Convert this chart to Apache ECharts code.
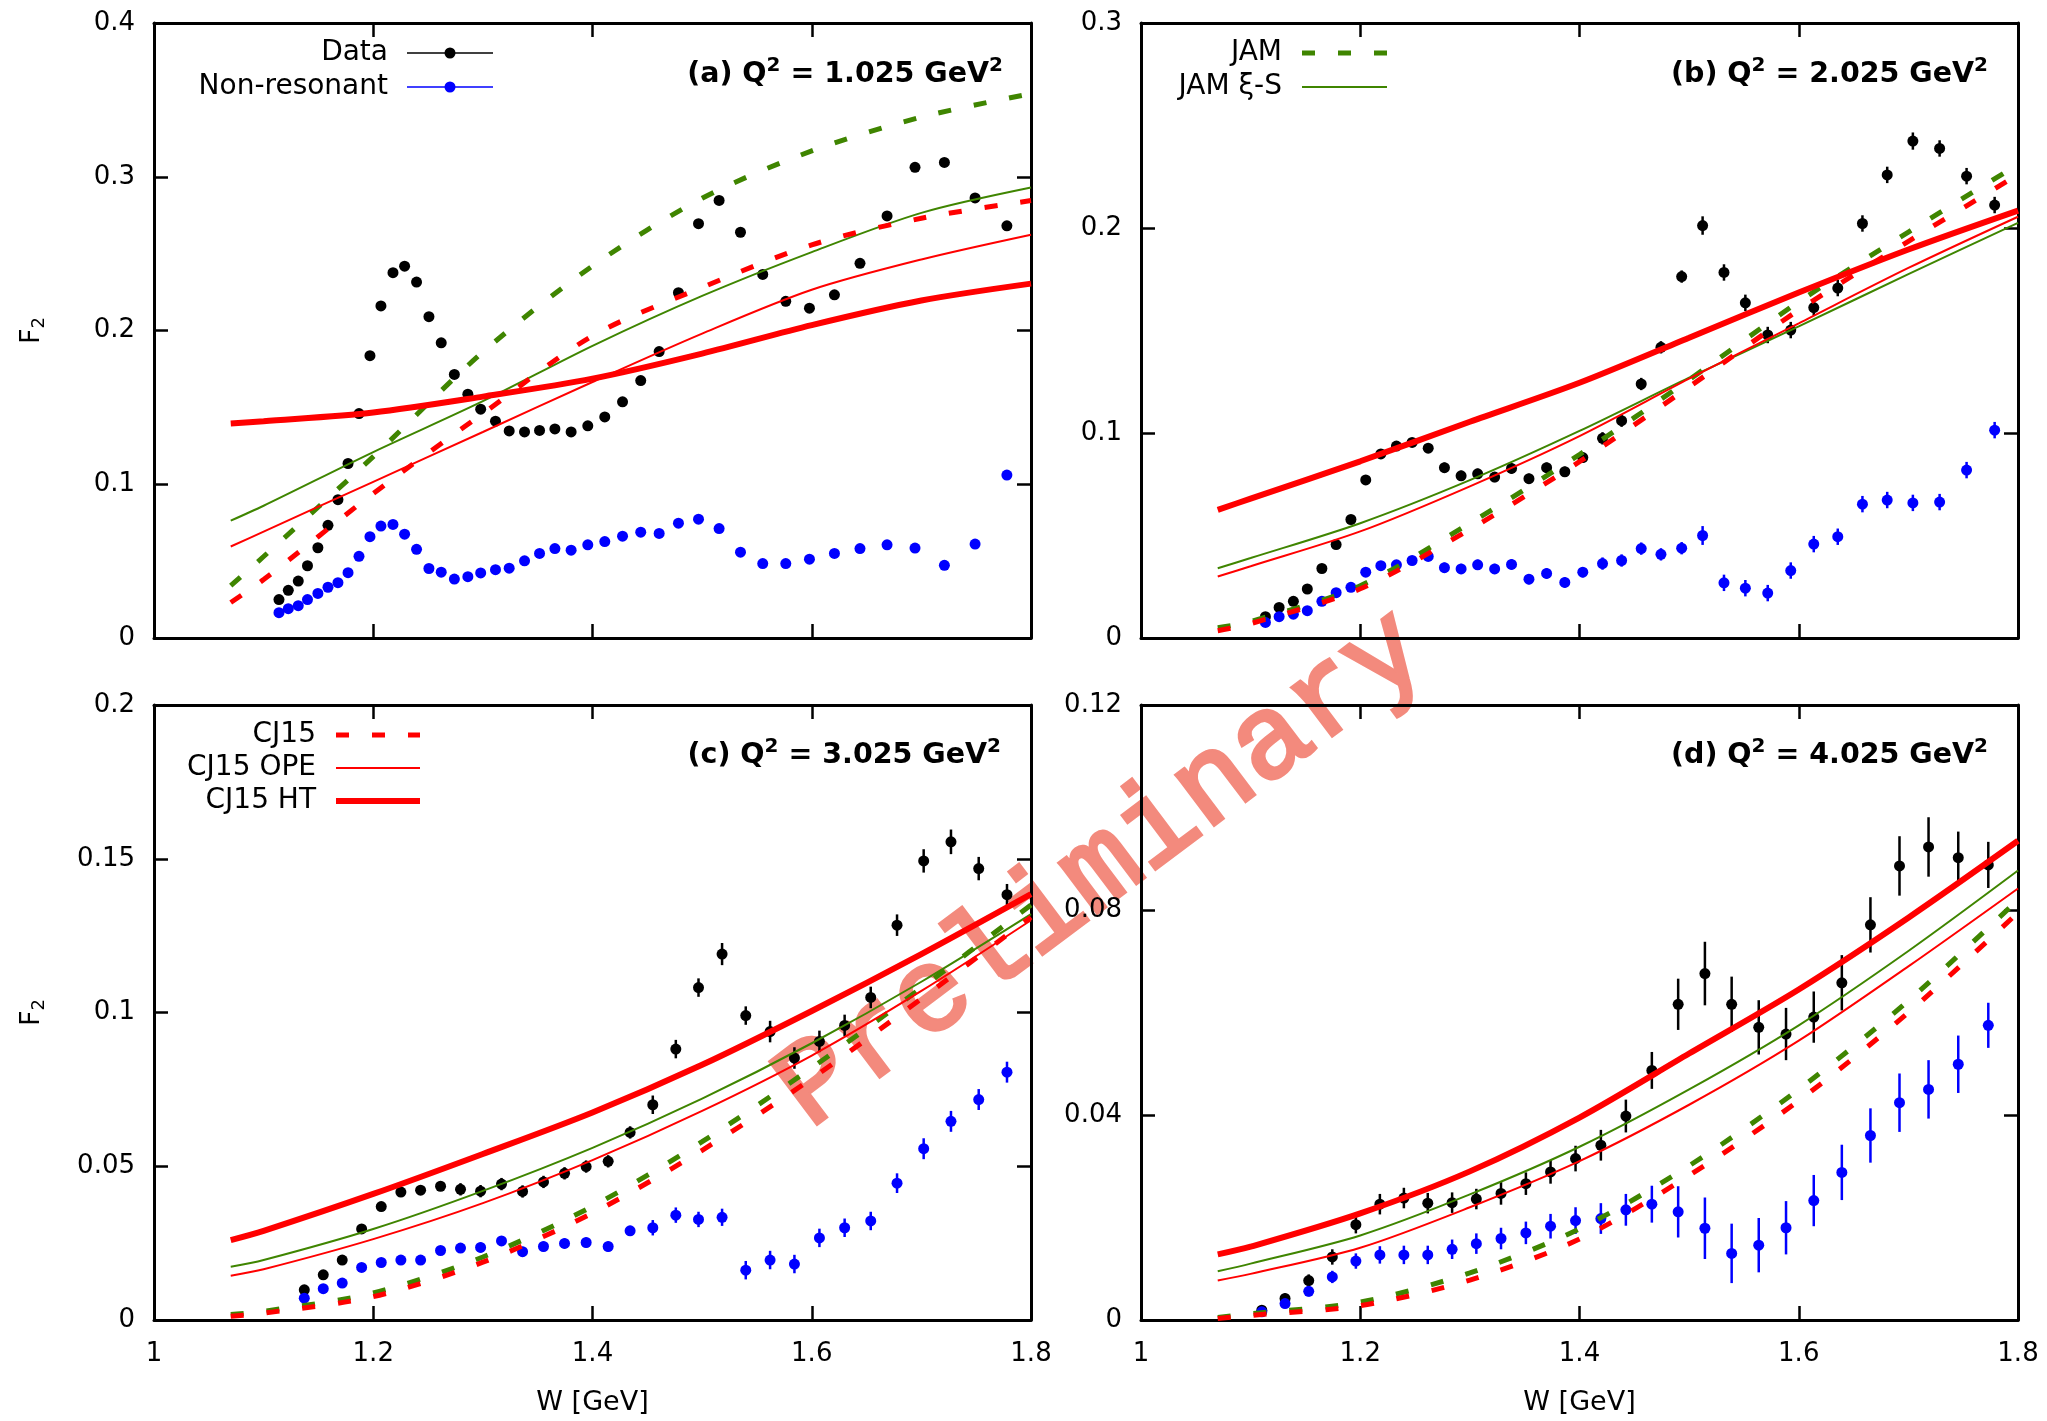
<!DOCTYPE html>
<html>
<head>
<meta charset="utf-8">
<script src="https://cdn.jsdelivr.net/npm/echarts@6/dist/echarts.min.js"></script>
<style>
  html, body { margin: 0; padding: 0; background: #fff; }
  #chart { width: 2047px; height: 1421px; }
</style>
</head>
<body>
<div id="chart"></div>
<script>
// ---- measured points (W in GeV, F2) ----
// panel (a) Q2 = 1.025
const wA = [1.114,1.1225,1.1316,1.140,1.1495,1.1587,1.1678,1.177,1.187,1.197,1.207,1.218,1.2286,1.2395,1.2508,1.262,1.274,1.2863,1.298,1.3115,1.324,1.338,1.3517,1.3657,1.3805,1.3957,1.4112,1.4274,1.444,1.4608,1.4784,1.4967,1.5155,1.535,1.5553,1.5763,1.5979,1.6207,1.644,1.6687,1.6942,1.721,1.749,1.778];
const dataA = [0.025,0.031,0.037,0.047,0.0587,0.0733,0.090,0.1135,0.146,0.1836,0.216,0.2376,0.2418,0.2315,0.209,0.192,0.1714,0.1586,0.1488,0.141,0.1347,0.134,0.135,0.136,0.134,0.138,0.1438,0.1536,0.1674,0.1863,0.2246,0.2695,0.2846,0.2639,0.2365,0.219,0.2145,0.2232,0.2437,0.2745,0.3061,0.3093,0.2862,0.2681];
const nonresA = [0.0165,0.0191,0.021,0.025,0.029,0.033,0.036,0.0425,0.0531,0.0659,0.0728,0.0739,0.0675,0.0577,0.0452,0.0428,0.0383,0.0399,0.0423,0.0444,0.0454,0.0502,0.055,0.0582,0.0571,0.0606,0.0627,0.0662,0.0688,0.068,0.0747,0.0773,0.0712,0.0558,0.0484,0.0484,0.0513,0.055,0.0582,0.0606,0.0585,0.0473,0.0611,0.106];

// panel (b) Q2 = 2.025
const wB = [1.1135,1.126,1.139,1.1517,1.165,1.178,1.1915,1.205,1.2188,1.233,1.2473,1.262,1.2768,1.292,1.3071,1.3226,1.338,1.3539,1.370,1.3866,1.403,1.421,1.4384,1.4563,1.4743,1.4932,1.5123,1.5318,1.5513,1.5717,1.5927,1.6137,1.6356,1.6581,1.6807,1.7041,1.7285,1.7531,1.7787];
const dataB = [0.0104,0.0149,0.0179,0.0239,0.0339,0.0456,0.0578,0.0771,0.0898,0.0936,0.0954,0.0926,0.0831,0.0791,0.0801,0.0785,0.0827,0.0777,0.0831,0.0811,0.088,0.0974,0.106,0.1239,0.1418,0.1763,0.2012,0.1783,0.1635,0.1478,0.1502,0.1612,0.1707,0.2022,0.2259,0.2424,0.2388,0.2253,0.2112];
const dataErrB = [0.002,0.002,0.002,0.002,0.002,0.002,0.002,0.002,0.002,0.002,0.002,0.002,0.0025,0.0025,0.0025,0.0025,0.0025,0.0025,0.0025,0.0025,0.0025,0.003,0.003,0.003,0.003,0.003,0.0045,0.004,0.004,0.004,0.004,0.004,0.004,0.004,0.004,0.0042,0.004,0.004,0.004];
const nonresB = [0.0076,0.0104,0.0116,0.0133,0.0179,0.0221,0.0247,0.0321,0.0353,0.0357,0.0378,0.0398,0.0343,0.0337,0.0357,0.0337,0.0359,0.0287,0.0315,0.0271,0.0321,0.0363,0.0378,0.0436,0.0408,0.0438,0.05,0.0269,0.0243,0.0219,0.0329,0.0458,0.0494,0.0653,0.0673,0.0659,0.0663,0.0819,0.1014];
const nonresErrB = [0.002,0.002,0.002,0.002,0.002,0.002,0.002,0.002,0.002,0.002,0.002,0.002,0.0025,0.0025,0.0025,0.0025,0.0025,0.0025,0.0025,0.0025,0.0025,0.003,0.003,0.003,0.003,0.003,0.0046,0.004,0.004,0.004,0.004,0.004,0.004,0.004,0.004,0.004,0.004,0.004,0.004];

// panel (c) Q2 = 3.025
const wC = [1.1371,1.1544,1.1717,1.1894,1.2073,1.2252,1.2432,1.2614,1.2796,1.2979,1.317,1.3362,1.3553,1.3745,1.3942,1.4143,1.4343,1.455,1.476,1.4967,1.5182,1.5398,1.562,1.5842,1.607,1.63,1.6538,1.6778,1.7021,1.727,1.7523,1.7781];
const dataC = [0.0098,0.0147,0.0195,0.0296,0.0369,0.0416,0.0422,0.0435,0.0425,0.0419,0.0442,0.0418,0.0449,0.0477,0.0499,0.0516,0.061,0.070,0.0881,0.1081,0.119,0.099,0.0938,0.0852,0.0906,0.0958,0.1049,0.1284,0.1493,0.1555,0.1468,0.1383];
const dataErrC = [0.0015,0.0015,0.0015,0.0015,0.0015,0.0015,0.0015,0.0015,0.002,0.002,0.002,0.002,0.002,0.002,0.002,0.002,0.002,0.003,0.003,0.003,0.0036,0.003,0.0035,0.0035,0.0035,0.0035,0.0035,0.0035,0.0038,0.004,0.0038,0.0035];
const nonresC = [0.0071,0.0102,0.012,0.0171,0.0187,0.0195,0.0195,0.0226,0.0234,0.0236,0.0257,0.0222,0.0239,0.0249,0.0252,0.0239,0.029,0.030,0.0341,0.0327,0.0334,0.0162,0.0195,0.0182,0.0267,0.030,0.0322,0.0445,0.0557,0.0646,0.0717,0.0806];
const nonresErrC = [0.0012,0.0012,0.0012,0.0012,0.0012,0.0012,0.0012,0.0012,0.0016,0.0016,0.0016,0.0016,0.0016,0.0016,0.0016,0.0016,0.0016,0.0025,0.0025,0.0025,0.0028,0.003,0.003,0.003,0.003,0.003,0.003,0.0032,0.0034,0.0034,0.0034,0.0034];

// panel (d) Q2 = 4.025
const wD = [1.1102,1.1314,1.153,1.1745,1.196,1.2179,1.2398,1.2616,1.2838,1.3059,1.3284,1.3511,1.3736,1.3964,1.4195,1.4423,1.466,1.490,1.5144,1.5388,1.5635,1.5884,1.6137,1.6393,1.6654,1.6919,1.7184,1.7455,1.7729];
const dataD = [0.0019,0.0042,0.0077,0.0123,0.0186,0.0226,0.0238,0.0228,0.0229,0.0236,0.0247,0.0266,0.0289,0.0315,0.0341,0.0398,0.0487,0.0616,0.0676,0.0616,0.0571,0.0558,0.0591,0.0658,0.0771,0.0886,0.0923,0.0902,0.0888];
const dataErrD = [0.0008,0.001,0.0012,0.0015,0.0017,0.002,0.002,0.002,0.002,0.002,0.0022,0.0022,0.0023,0.0025,0.003,0.0032,0.0036,0.005,0.0062,0.0054,0.0053,0.0051,0.005,0.0054,0.0054,0.0058,0.0058,0.0051,0.0045];
const nonresD = [0.0016,0.0032,0.0056,0.0084,0.0115,0.0127,0.0127,0.0127,0.0138,0.0149,0.0159,0.017,0.0183,0.0194,0.0198,0.0215,0.0226,0.0211,0.0179,0.013,0.0146,0.018,0.0233,0.0288,0.036,0.0424,0.045,0.0499,0.0575];
const nonresErrD = [0.0006,0.0008,0.001,0.0012,0.0015,0.0017,0.0018,0.0018,0.0019,0.002,0.0021,0.0022,0.0024,0.0026,0.003,0.0031,0.0036,0.005,0.006,0.0058,0.0053,0.0052,0.005,0.0054,0.0053,0.0057,0.0057,0.0056,0.0044];

// ---- model curves, read at these W ----
const curveW = [1.07, 1.1, 1.2, 1.3, 1.4, 1.5, 1.6, 1.7, 1.8];

const jamA   = [0.034, 0.053, 0.118, 0.186, 0.242, 0.286, 0.3168, 0.3388, 0.354];
const jamXiA = [0.0763, 0.086, 0.1209, 0.154, 0.19, 0.2225, 0.251, 0.2765, 0.293];
const cjA    = [0.0231, 0.038, 0.094, 0.146, 0.1965, 0.228, 0.2557, 0.273, 0.2845];
const opeA   = [0.0595, 0.0692, 0.1016, 0.134, 0.1665, 0.198, 0.2265, 0.2462, 0.2623];
const htA    = [0.1395, 0.141, 0.1467, 0.157, 0.1687, 0.185, 0.2035, 0.2195, 0.2305];

const jamB   = [0.005, 0.008, 0.0255, 0.056, 0.0895, 0.126, 0.164, 0.198, 0.231];
const jamXiB = [0.034, 0.039, 0.056, 0.077, 0.101, 0.127, 0.152, 0.1775, 0.2025];
const cjB    = [0.0035, 0.007, 0.024, 0.053, 0.086, 0.1225, 0.160, 0.1935, 0.226];
const opeB   = [0.030, 0.035, 0.052, 0.074, 0.0985, 0.1265, 0.1535, 0.1805, 0.2055];
const htB    = [0.0625, 0.068, 0.0862, 0.1055, 0.1245, 0.1465, 0.1685, 0.1895, 0.2085];

const jamC   = [0.0018, 0.0028, 0.0088, 0.0205, 0.037, 0.058, 0.082, 0.108, 0.135];
const jamXiC = [0.0173, 0.0195, 0.0296, 0.042, 0.056, 0.072, 0.090, 0.110, 0.132];
const cjC    = [0.0012, 0.0022, 0.0076, 0.0188, 0.0348, 0.0552, 0.0785, 0.1045, 0.131];
const opeC   = [0.0144, 0.0165, 0.0263, 0.038, 0.052, 0.068, 0.086, 0.107, 0.130];
const htC    = [0.026, 0.029, 0.041, 0.054, 0.0675, 0.083, 0.1005, 0.119, 0.1385];

const jamD   = [0.0005, 0.0012, 0.0035, 0.0092, 0.0178, 0.0301, 0.045, 0.0623, 0.082];
const jamXiD = [0.0095, 0.011, 0.0165, 0.0245, 0.0338, 0.045, 0.0575, 0.072, 0.0877];
const cjD    = [0.0003, 0.0009, 0.0028, 0.0078, 0.0158, 0.0282, 0.0428, 0.060, 0.0795];
const opeD   = [0.0077, 0.009, 0.0141, 0.022, 0.031, 0.042, 0.0545, 0.069, 0.0842];
const htD    = [0.0128, 0.0143, 0.0208, 0.029, 0.0395, 0.052, 0.0645, 0.0785, 0.0935];

// axis ranges and labels
const yMax  = [0.4, 0.3, 0.2, 0.12];
const yStep = [0.1, 0.1, 0.05, 0.04];
const titles = ['(a) Q{s|2} = 1.025 GeV{s|2}', '(b) Q{s|2} = 2.025 GeV{s|2}',
                '(c) Q{s|2} = 3.025 GeV{s|2}', '(d) Q{s|2} = 4.025 GeV{s|2}'];

const points = [
  { w: wA, data: dataA, dataErr: null, nonres: nonresA, nonresErr: null },
  { w: wB, data: dataB, dataErr: dataErrB, nonres: nonresB, nonresErr: nonresErrB },
  { w: wC, data: dataC, dataErr: dataErrC, nonres: nonresC, nonresErr: nonresErrC },
  { w: wD, data: dataD, dataErr: dataErrD, nonres: nonresD, nonresErr: nonresErrD }
];
const curves = [
  { jam: jamA, jamXi: jamXiA, cj: cjA, ope: opeA, ht: htA },
  { jam: jamB, jamXi: jamXiB, cj: cjB, ope: opeB, ht: htB },
  { jam: jamC, jamXi: jamXiC, cj: cjC, ope: opeC, ht: htC },
  { jam: jamD, jamXi: jamXiD, cj: cjD, ope: opeD, ht: htD }
];

// layout
const FONT = 'DejaVu Sans';
const GREEN = '#3f8500';
const RED = '#ff0000';
const BLUE = '#0000ff';
const DASH = [13, 23];
const gridPos = [
  { left: 154, top: 23 }, { left: 1141, top: 23 },
  { left: 154, top: 705 }, { left: 1141, top: 705 }
];

const pairs = (xs, ys) => xs.map((x, i) => [x, ys[i]]);
const triples = (xs, ys, es) => xs.map((x, i) => [x, ys[i], es[i]]);

const chart = echarts.init(document.getElementById('chart'));

const grid = gridPos.map(p => ({ left: p.left, top: p.top, width: 877, height: 615 }));
const frameLine = { show: true, onZero: false, lineStyle: { color: '#000', width: 3 } };
const tick = { show: true, inside: true, length: 14, lineStyle: { color: '#000', width: 2.5 } };

const xAxis = [];
const yAxis = [];
for (let i = 0; i < 4; i++) {
  const bottomLabels = i >= 2;
  xAxis.push({
    gridIndex: i, type: 'value', position: 'bottom', min: 1, max: 1.8, interval: 0.2,
    axisLine: frameLine, axisTick: tick, splitLine: { show: false },
    axisLabel: { show: bottomLabels, margin: 21, color: '#000', fontSize: 26, fontFamily: FONT },
    name: bottomLabels ? 'W [GeV]' : '', nameLocation: 'middle', nameGap: 69,
    nameTextStyle: { color: '#000', fontSize: 27, fontFamily: FONT }
  });
  xAxis.push({
    gridIndex: i, type: 'value', position: 'top', min: 1, max: 1.8, interval: 0.2,
    axisLine: frameLine, axisTick: tick, splitLine: { show: false }, axisLabel: { show: false }
  });
  yAxis.push({
    gridIndex: i, type: 'value', position: 'left', min: 0, max: yMax[i], interval: yStep[i],
    axisLine: frameLine, axisTick: tick, splitLine: { show: false },
    axisLabel: { margin: 19, color: '#000', fontSize: 26, fontFamily: FONT },
    name: (i % 2 === 0) ? '{f|F}{s|2}' : '', nameLocation: 'middle', nameGap: 106,
    nameTextStyle: {
      color: '#000', fontFamily: FONT,
      rich: {
        f: { fontSize: 27, fontFamily: FONT, color: '#000' },
        s: { fontSize: 18, fontFamily: FONT, color: '#000', padding: [14, 0, 0, 0] }
      }
    }
  });
  yAxis.push({
    gridIndex: i, type: 'value', position: 'right', min: 0, max: yMax[i], interval: yStep[i],
    axisLine: frameLine, axisTick: tick, splitLine: { show: false }, axisLabel: { show: false }
  });
}

// vertical error bar drawn through the axis scales
function errorBars(color) {
  return function (params, api) {
    const x = api.value(0), y = api.value(1), e = api.value(2);
    const lo = api.coord([x, y - e]);
    const hi = api.coord([x, y + e]);
    return {
      type: 'line',
      shape: { x1: lo[0], y1: lo[1], x2: hi[0], y2: hi[1] },
      style: { stroke: color, lineWidth: 2.5 }
    };
  };
}

const series = [];
for (let i = 0; i < 4; i++) {
  const ax = { xAxisIndex: i * 2, yAxisIndex: i * 2 };
  const p = points[i];
  if (p.dataErr) {
    series.push(Object.assign({ type: 'custom', renderItem: errorBars('#000'), z: 2,
      encode: { x: 0, y: 1 }, data: triples(p.w, p.data, p.dataErr), silent: true }, ax));
    series.push(Object.assign({ type: 'custom', renderItem: errorBars(BLUE), z: 2,
      encode: { x: 0, y: 1 }, data: triples(p.w, p.nonres, p.nonresErr), silent: true }, ax));
  }
  series.push(Object.assign({ type: 'scatter', name: 'Data', symbolSize: 11, z: 3,
    itemStyle: { color: '#000', opacity: 1 }, data: pairs(p.w, p.data), silent: true }, ax));
  series.push(Object.assign({ type: 'scatter', name: 'Non-resonant', symbolSize: 11, z: 3,
    itemStyle: { color: BLUE, opacity: 1 }, data: pairs(p.w, p.nonres), silent: true }, ax));

  const c = curves[i];
  const line = (name, vals, color, width, type) => Object.assign({
    type: 'line', name: name, data: pairs(curveW, vals), smooth: 0.3, symbol: 'none', z: 4,
    silent: true, lineStyle: { color: color, width: width, type: type }
  }, ax);
  series.push(line('JAM', c.jam, GREEN, 5, DASH));
  series.push(line('JAM ξ-S', c.jamXi, GREEN, 2, 'solid'));
  series.push(line('CJ15', c.cj, RED, 5, DASH));
  series.push(line('CJ15 OPE', c.ope, RED, 2, 'solid'));
  series.push(line('CJ15 HT', c.ht, RED, 6, 'solid'));
}

// gnuplot style keys: text on the left, sample on the right
const keyText = (text, x, y) => ({
  type: 'text', x: x, y: y, z: 10,
  style: { text: text, fill: '#000', fontSize: 28, fontFamily: FONT, align: 'right', verticalAlign: 'middle' }
});
const keyLine = (x1, x2, y, color, width, dash) => ({
  type: 'line', z: 10, shape: { x1: x1, y1: y, x2: x2, y2: y },
  style: { stroke: color, lineWidth: width, lineDash: dash || null }
});
const keyDot = (x, y, color) => ({
  type: 'circle', z: 11, shape: { cx: x, cy: y, r: 5.5 }, style: { fill: color }
});

const graphic = [
  // watermark, behind the plots
  {
    type: 'text', x: 1102, y: 870, rotation: 37 * Math.PI / 180, z: -10,
    style: {
      text: 'Preliminary', fill: '#f38a7d', stroke: '#f38a7d', lineWidth: 4, lineJoin: 'round',
      fontSize: 118, fontFamily: 'Liberation Mono', align: 'center', verticalAlign: 'middle'
    }
  },
  keyText('Data', 388, 53), keyLine(407, 493, 53, '#000', 1.5), keyDot(450, 53, '#000'),
  keyText('Non-resonant', 388, 87), keyLine(407, 493, 87, BLUE, 1.5), keyDot(450, 87, BLUE),
  keyText('JAM', 1282, 53), keyLine(1302, 1387, 53, GREEN, 5, DASH),
  keyText('JAM ξ-S', 1282, 87), keyLine(1302, 1387, 87, GREEN, 2),
  keyText('CJ15', 316, 735), keyLine(336, 420, 735, RED, 5, DASH),
  keyText('CJ15 OPE', 316, 768), keyLine(336, 420, 768, RED, 2),
  keyText('CJ15 HT', 316, 801), keyLine(336, 420, 801, RED, 6)
];

const titlePos = [[1003, 75], [1988, 75], [1001, 756], [1988, 756]];
titles.forEach((t, i) => {
  graphic.push({
    type: 'text', x: titlePos[i][0], y: titlePos[i][1], z: 10,
    style: {
      text: t, fill: '#000', fontSize: 28.5, fontWeight: 'bold', fontFamily: FONT,
      align: 'right', verticalAlign: 'middle',
      rich: { s: { fontSize: 20, fontWeight: 'bold', fontFamily: FONT, fill: '#000', padding: [0, 0, 18, 0] } }
    }
  });
});

chart.setOption({
  animation: false,
  backgroundColor: '#fff',
  grid: grid,
  xAxis: xAxis,
  yAxis: yAxis,
  series: series,
  graphic: graphic
});
</script>
</body>
</html>
